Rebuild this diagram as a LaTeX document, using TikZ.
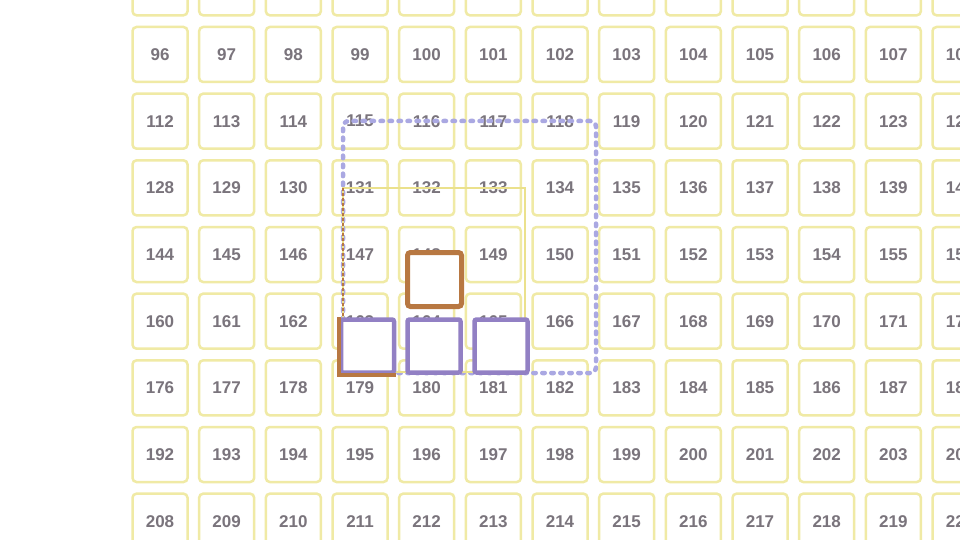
\documentclass[tikz,border=0pt]{standalone}
\usepackage{fontspec}
\setmainfont{Liberation Sans}
\definecolor{cellyel}{RGB}{240,234,165}
\definecolor{numgray}{RGB}{122,116,124}
\definecolor{lav}{RGB}{170,168,226}
\definecolor{selbrown}{RGB}{184,120,66}
\definecolor{selpurple}{RGB}{146,128,196}
\definecolor{thinyel}{RGB}{235,225,140}
\tikzset{
  cellbox/.style={draw=cellyel, line width=2.5pt, rounded corners=4pt, minimum size=55pt, inner sep=0pt,
    font=\bfseries\fontsize{17}{17}\selectfont, text=numgray},
  brownbox/.style={draw=selbrown, fill=white, line width=5pt, rounded corners=3pt, minimum size=54pt, inner sep=0pt},
  purplebox/.style={draw=selpurple, fill=white, line width=4.5pt, rounded corners=2pt, minimum size=53pt, inner sep=0pt},
  dashframe/.style={draw=lav, line width=4.5pt, dash pattern=on 2.5pt off 6.5pt, line cap=round, rounded corners=6pt},
  yelframe/.style={draw=thinyel, line width=2pt},
  brownline/.style={draw=selbrown, line width=1.2pt, dash pattern=on 3pt off 2pt}
}
\begin{document}
\begin{tikzpicture}[x=1pt,y=-1pt]
\useasboundingbox (0,0) rectangle (960,540);
\fill[white] (0,0) rectangle (960,540);
\foreach \k in {0,...,12}{
  \node[cellbox] (t\k) at ({160+66.667*\k},-12.2) {};
}
\foreach \r in {0,...,7}{
  \foreach \k in {0,...,12}{
    \pgfmathtruncatemacro{\n}{96+16*\r+\k}
    \node[cellbox] (c\n) at ({160+66.667*\k},{54.5+66.667*\r}) {\n};
  }
}
% dashed frame
\node[dashframe, minimum width=253pt, minimum height=252pt, inner sep=0pt] (dframe) at (469.5,247) {};
% thin yellow frame
\node[yelframe, minimum width=182pt, minimum height=184pt, inner sep=0pt] (yframe) at (434,280) {};
\coordinate (bl1) at (343,188);
\coordinate (bl2) at (343,322);
\draw[brownline] (bl1) -- (bl2);
% selected box
\node[brownbox] (sel) at (434.5,279.5) {};
% purple boxes
\node[purplebox] (p1) at (367.5,346) {};
\node[purplebox] (p2) at (434,346) {};
\node[purplebox] (p3) at (501,346) {};
\draw[selbrown, line width=4.5pt] (p1.north west) -- (p1.south west) -- (p1.south east);
\end{tikzpicture}
\end{document}
